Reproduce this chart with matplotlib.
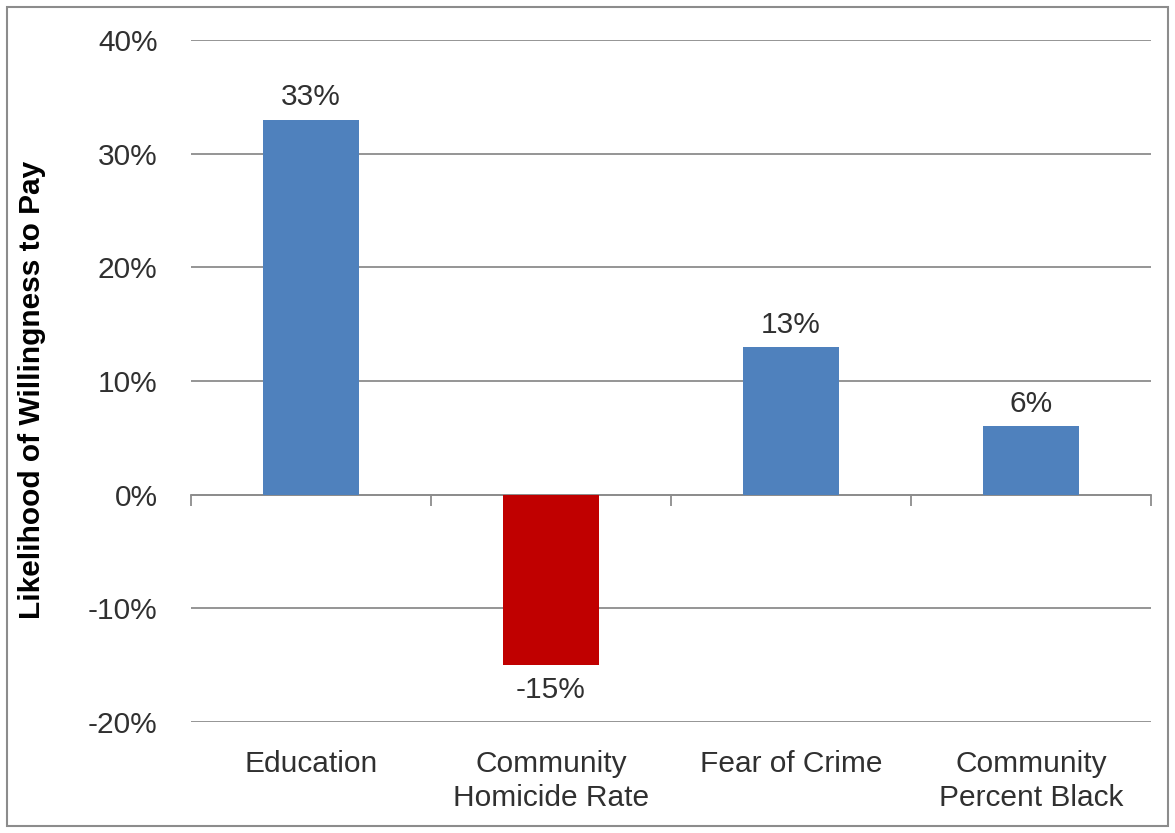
import matplotlib.pyplot as plt
from matplotlib.patches import Rectangle
from matplotlib.ticker import PercentFormatter

plt.rcParams['font.family'] = ['Liberation Sans', 'DejaVu Sans']
plt.rcParams['axes.unicode_minus'] = False

categories = ['Education', 'Community\nHomicide Rate', 'Fear of Crime', 'Community\nPercent Black']
values = [0.33, -0.15, 0.13, 0.06]
value_labels = ['33%', '-15%', '13%', '6%']
bar_colors = ['#4F81BD', '#C00000', '#4F81BD', '#4F81BD']
y_ticks = [-0.2, -0.1, 0.0, 0.1, 0.2, 0.3, 0.4]

fs = 21.5
txt = '#303030'

fig = plt.figure(figsize=(11.75, 8.33), dpi=100, facecolor='w')
ax = fig.add_axes([0.1626, 0.1333, 0.817, 0.8187])

x = list(range(len(categories)))
bars = ax.bar(x, values, width=0.4, color=bar_colors, zorder=3)

for b, v, lab in zip(bars, values, value_labels):
    cx = b.get_x() + b.get_width() / 2
    if v >= 0:
        ax.annotate(lab, (cx, v), xytext=(0, 6), textcoords='offset points',
                    ha='center', va='bottom', fontsize=fs, color=txt)
    else:
        ax.annotate(lab, (cx, v), xytext=(0, -8), textcoords='offset points',
                    ha='center', va='top', fontsize=fs, color=txt)

ax.set_xlim(-0.5, 3.5)
ax.set_ylim(-0.2, 0.4)
ax.set_yticks(y_ticks)
ax.yaxis.set_major_formatter(PercentFormatter(1.0, decimals=0))
ax.tick_params(axis='y', length=0, pad=24, labelsize=fs, labelcolor=txt)
ax.yaxis.grid(True, color='#8c8c8c', linewidth=1.3, zorder=0)
ax.set_axisbelow(True)

for s in ['top', 'right', 'left']:
    ax.spines[s].set_visible(False)
ax.spines['bottom'].set_position(('data', 0))
ax.spines['bottom'].set_color('#8c8c8c')
ax.spines['bottom'].set_linewidth(1.3)

# small ticks at category borders on the zero line
ax.set_xticks(x)
ax.set_xticks([-0.5, 0.5, 1.5, 2.5, 3.5], minor=True)
ax.tick_params(axis='x', which='major', length=0, labelbottom=False)
ax.tick_params(axis='x', which='minor', length=8, width=1.3, color='#8c8c8c', direction='out')

# category names sit below the plot area
sec = ax.secondary_xaxis(location=0)
sec.set_xticks(x, categories)
sec.tick_params(length=0, pad=20, labelsize=fs, labelcolor=txt)
sec.spines['bottom'].set_visible(False)
for t in sec.get_xticklabels():
    t.set_linespacing(1.3)

fig.text(32 / 1175, 1 - 390 / 833, 'Likelihood of Willingness to Pay', rotation=90,
         ha='center', va='center', fontsize=fs, fontweight='bold', color='black')

fig.patches.append(Rectangle((0.006, 0.008), 0.988, 0.983, transform=fig.transFigure,
                             fill=False, edgecolor='#8c8c8c', linewidth=1.5))

fig.savefig('out.png', dpi=100, facecolor='w')
